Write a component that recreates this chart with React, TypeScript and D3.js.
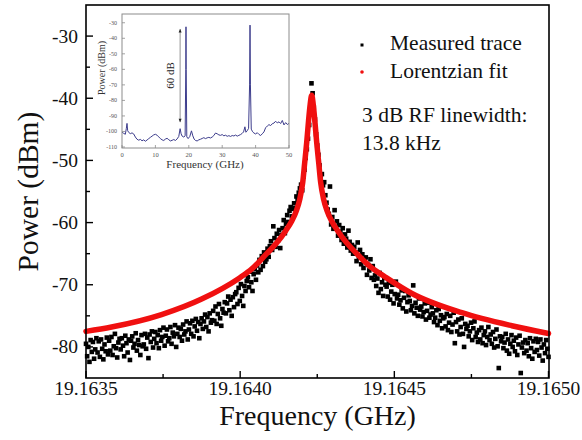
import React from 'react';
import * as d3 from 'd3';

const W = 582;
const H = 440;

// ---------- main chart data ----------
const F_START = 19.1635;
const F_STOP = 19.165;
const xTickValues = [19.1635, 19.164, 19.1645, 19.165];
const xTickLabels = ['19.1635', '19.1640', '19.1645', '19.1650'];
const xMinorTicks = [19.16375, 19.16425, 19.16475];
const yTickValues = [-30, -40, -50, -60, -70, -80];
const yMinorTicks = [-35, -45, -55, -65, -75];

// measured trace (dBm), uniformly swept from F_START to F_STOP
const measuredPower = [
  -79.5, -81.5, -80.0, -82.4, -78.9, -80.8, -79.2, -81.9, -80.4, -78.6,
  -80.9, -79.1, -81.6, -78.8, -80.3, -82.0, -79.6, -80.7, -78.5, -81.2,
  -79.0, -80.6, -78.4, -81.3, -79.9, -77.9, -80.2, -81.7, -79.3, -78.7,
  -80.4, -78.6, -79.8, -81.5, -78.2, -79.4, -80.9, -78.8, -82.1, -79.0,
  -78.3, -80.1, -79.5, -77.8, -80.6, -78.9, -79.7, -81.3, -78.1, -79.9,
  -79.6, -77.9, -80.3, -78.5, -81.8, -78.0, -79.2, -77.5, -80.1, -78.7,
  -77.6, -79.4, -78.1, -80.2, -77.3, -79.0, -78.4, -76.9, -79.8, -78.2,
  -77.2, -79.1, -78.6, -76.8, -79.5, -77.7, -78.3, -76.5, -80.0, -77.9,
  -76.9, -78.4, -77.1, -79.0, -76.4, -78.0, -77.5, -75.9, -78.8, -77.2,
  -76.2, -77.9, -75.8, -78.3, -76.7, -75.5, -77.4, -76.0, -78.6, -76.3,
  -75.4, -77.1, -75.9, -74.8, -76.8, -75.2, -77.5, -74.6, -76.1, -75.7,
  -74.2, -75.8, -73.5, -76.3, -74.7, -73.1, -75.4, -76.6, -73.9, -74.5,
  -72.8, -74.6, -73.0, -71.9, -74.1, -72.4, -75.0, -72.0, -73.6, -71.5,
  -71.2, -73.1, -70.5, -72.6, -69.9, -71.8, -73.4, -70.2, -71.0, -69.4,
  -68.8, -70.4, -67.9, -69.6, -71.0, -68.3, -67.5, -69.2, -66.9, -68.0,
  -66.0, -67.6, -65.4, -67.0, -64.8, -66.3, -65.9, -64.2, -65.5, -63.8,
  -63.0, -64.4, -60.6, -62.5, -63.9, -61.8, -62.9, -61.2, -64.1, -62.0,
  -60.9, -59.6, -61.7, -60.2, -58.8, -59.9, -58.1, -57.5, -59.0, -57.8,
  -56.9, -57.7, -55.8, -56.4, -55.2, -54.5, -53.9, -54.8, -52.6, -51.5,
  -49.6, -48.2, -46.5, -44.3, -41.8, -37.6, -39.2, -41.5, -43.4, -45.8,
  -47.6, -49.1, -50.8, -52.9, -52.2, -54.0, -53.5, -55.6, -56.8, -57.9,
  -58.6, -54.2, -60.3, -59.1, -61.0, -58.0, -60.7, -59.8, -62.1, -60.4,
  -61.5, -62.8, -60.9, -63.4, -61.9, -62.6, -64.0, -61.3, -63.1, -64.5,
  -63.6, -65.0, -63.9, -64.8, -66.2, -63.2, -65.5, -64.4, -66.7, -65.1,
  -67.3, -66.0, -65.6, -68.4, -66.8, -67.7, -65.9, -68.9, -67.0, -69.2,
  -68.5, -70.2, -69.0, -71.3, -68.1, -70.7, -69.6, -71.8, -68.9, -70.0,
  -70.3, -71.9, -69.7, -72.4, -71.1, -70.0, -73.0, -71.5, -69.5, -72.2,
  -71.6, -73.2, -72.5, -70.9, -73.8, -72.1, -71.0, -74.3, -72.8, -71.7,
  -72.6, -74.1, -73.4, -70.1, -74.6, -72.9, -73.7, -75.0, -72.2, -74.0,
  -73.5, -75.1, -74.4, -73.0, -75.6, -74.2, -72.9, -75.3, -74.8, -73.6,
  -74.6, -76.0, -75.3, -74.1, -76.5, -73.9, -75.8, -74.9, -77.0, -75.4,
  -75.2, -76.7, -74.7, -77.3, -76.1, -75.0, -77.6, -76.4, -74.5, -79.4,
  -76.0, -77.5, -75.6, -78.0, -76.8, -75.4, -77.9, -80.0, -76.3, -77.1,
  -76.6, -78.3, -77.5, -76.1, -78.9, -77.0, -75.9, -78.4, -77.7, -79.2,
  -77.3, -78.8, -76.9, -79.4, -78.1, -77.5, -79.7, -78.4, -76.8, -78.9,
  -78.0, -79.5, -77.6, -80.1, -78.7, -77.2, -79.9, -83.4, -78.3, -79.1,
  -78.4, -80.2, -79.3, -77.9, -80.6, -78.8, -81.1, -79.5, -78.1, -80.0,
  -79.0, -80.7, -78.5, -81.3, -79.6, -78.2, -84.2, -80.1, -79.3, -81.0,
  -78.9, -80.6, -79.4, -81.5, -78.6, -80.2, -81.9, -79.1, -80.8, -78.7,
  -80.5, -79.2, -81.4, -78.8, -80.1, -82.2, -79.6, -81.0, -78.9, -80.3, -81.6,
];

// Lorentzian fit
const fitFreq = [
  19.1635, 19.163583, 19.163745, 19.163875, 19.163998, 19.164037, 19.164086,
  19.164118, 19.164148, 19.164167, 19.164183, 19.164193, 19.164203, 19.164209,
  19.164216, 19.164222, 19.164227, 19.164232, 19.164237, 19.164242, 19.164248,
  19.164255, 19.164261, 19.164271, 19.164281, 19.164297, 19.164316, 19.164346,
  19.164378, 19.164427, 19.164466, 19.164557, 19.164719, 19.164881, 19.165,
];
const fitPower = [
  -77.5, -76.8, -74.8, -72.3, -68.9, -67.5, -65.0,
  -63.3, -61.3, -59.8, -58.0, -56.3, -53.5, -50.5,
  -47.0, -43.5, -41.0, -39.5, -41.0, -43.5, -47.0,
  -50.5, -53.5, -56.3, -58.0, -59.8, -61.3, -63.3,
  -65.0, -67.3, -68.6, -71.4, -74.5, -76.6, -77.85,
];

// ---------- inset data ----------
const insetXTicks = [0, 10, 20, 30, 40, 50];
const insetYTicks = [-30, -40, -50, -60, -70, -80, -90, -100, -110];
const insetFreq = [
  0.0, 0.5, 1.0, 1.3, 1.5, 1.7, 2.0, 2.5, 3.0, 3.5, 4.0, 4.5, 5.0, 5.5, 6.0,
  6.5, 7.0, 7.5, 8.0, 8.5, 9.0, 9.5, 10.0, 10.5, 11.0, 11.5, 12.0, 12.5, 13.0,
  13.5, 14.0, 14.5, 15.0, 15.5, 16.0, 16.5, 17.0, 17.4, 17.7, 18.0, 18.5, 18.9,
  19.1, 19.16, 19.22, 19.4, 19.8, 20.3, 20.8, 21.2, 21.6, 22.0, 22.5, 23.0,
  23.5, 24.0, 24.5, 25.0, 25.5, 26.0, 26.5, 27.0, 27.5, 28.0, 28.5, 29.0, 29.5,
  30.0, 30.5, 31.0, 31.5, 32.0, 32.5, 33.0, 33.5, 34.0, 34.5, 35.0, 35.5, 36.0,
  36.4, 36.8, 37.1, 37.5, 37.9, 38.2, 38.33, 38.45, 38.7, 39.1, 39.5, 40.0,
  40.5, 41.0, 41.5, 42.0, 42.5, 43.0, 43.5, 44.0, 44.5, 45.0, 45.5, 46.0, 46.5,
  47.0, 47.5, 48.0, 48.5, 49.0, 49.5, 50.0,
];
const insetPower = [
  -100.5, -101.2, -101.8, -98.0, -94.8, -99.5, -100.6, -101.4, -100.9, -101.6, -103.6, -105.0, -105.6, -105.1, -106.0,
  -105.4, -106.3, -105.5, -104.6, -103.8, -103.0, -102.2, -101.8, -102.4, -103.5, -104.6, -105.4, -105.8, -104.9,
  -104.4, -105.3, -106.1, -105.7, -105.2, -105.8, -104.8, -103.2, -98.2, -101.5, -103.0, -103.6, -102.8,
  -60.0, -32.6, -60.0, -103.5, -104.6, -103.2, -99.6, -102.8, -104.9, -105.8, -106.1, -105.4,
  -105.0, -104.5, -104.0, -104.6, -104.1, -103.8, -104.2, -103.6, -102.6, -101.0, -101.5, -102.2, -102.5,
  -102.0, -102.8, -102.4, -103.1, -102.7, -103.2, -102.6, -102.9, -102.3, -103.0, -102.5, -102.0, -101.2,
  -100.3, -97.0, -100.5, -99.5, -98.0, -70.0, -31.5, -70.0, -98.5, -100.2, -101.0, -101.6,
  -100.8, -101.9, -102.6, -101.5, -100.3, -97.6, -96.5, -95.6, -96.2, -95.0, -94.6, -93.4, -94.5,
  -93.8, -94.9, -92.9, -95.8, -94.3, -95.5, -94.8,
];
const arrowFreq = 17.4;
const arrowTop = -34;
const arrowBottom = -94;

const SERIF = "'Liberation Serif', 'Times New Roman', serif";

export default function App() {
  // main plot geometry
  const L = 86, R = 549, T = 5, B = 378;
  const x = d3.scaleLinear().domain([F_START, F_STOP]).range([L, 548.5]);
  const y = d3.scaleLinear().domain([-85, -25]).range([B, T]);

  const n = measuredPower.length;
  const measured = measuredPower.map((p, i) => ({
    f: F_START + (i * (F_STOP - F_START)) / (n - 1),
    p,
  }));
  const fit = fitFreq.map((f, i) => ({ f, p: fitPower[i] }));
  const fitLine = d3
    .line<{ f: number; p: number }>()
    .x((d) => x(d.f))
    .y((d) => y(d.p))
    .curve(d3.curveMonotoneX)(fit);

  // inset geometry
  const iL = 122, iR = 289, iT = 14, iB = 148;
  const ix = d3.scaleLinear().domain([0, 50]).range([iL, iR]);
  const iy = d3.scaleLinear().domain([-110, -25]).range([147, 15]);
  const insetLine = d3
    .line<number>()
    .x((d, i) => ix(insetFreq[i]))
    .y((d) => iy(d))(insetPower);

  const sq = 4.6;

  return (
    <svg
      width={W}
      height={H}
      style={{ position: 'absolute', left: 0, top: 0, background: '#fff' }}
      fontFamily={SERIF}
    >
      <rect x={0} y={0} width={W} height={H} fill="#fff" />

      {/* measured squares */}
      <g fill="#000">
        {measured.map((d, i) => (
          <rect key={i} x={x(d.f) - sq / 2} y={y(d.p) - sq / 2} width={sq} height={sq} />
        ))}
      </g>

      {/* Lorentzian fit */}
      <path d={fitLine || ''} fill="none" stroke="#f01010" strokeWidth={5.5} strokeLinecap="round" strokeLinejoin="round" />

      {/* frame */}
      <rect x={L} y={T} width={R - L} height={B - T} fill="none" stroke="#000" strokeWidth={1.6} />

      {/* x ticks */}
      {xTickValues.map((v, i) => (
        <g key={'xt' + i}>
          <line x1={x(v)} x2={x(v)} y1={B} y2={B - 7} stroke="#000" strokeWidth={1.4} />
          <text x={x(v)} y={395} fontSize={19.5} textAnchor="middle" fill="#111">
            {xTickLabels[i]}
          </text>
        </g>
      ))}
      {xMinorTicks.map((v, i) => (
        <line key={'xm' + i} x1={x(v)} x2={x(v)} y1={B} y2={B - 4} stroke="#000" strokeWidth={1.4} />
      ))}

      {/* y ticks */}
      {yTickValues.map((v, i) => (
        <g key={'yt' + i}>
          <line x1={L} x2={L + 7} y1={y(v)} y2={y(v)} stroke="#000" strokeWidth={1.4} />
          <text x={78} y={y(v) + 6.5} fontSize={19.5} textAnchor="end" fill="#111">
            {String(v)}
          </text>
        </g>
      ))}
      {yMinorTicks.map((v, i) => (
        <line key={'ym' + i} x1={L} x2={L + 4} y1={y(v)} y2={y(v)} stroke="#000" strokeWidth={1.4} />
      ))}

      {/* axis titles */}
      <text x={(L + R) / 2} y={424.5} fontSize={28} textAnchor="middle" fill="#111">
        Frequency (GHz)
      </text>
      <text
        transform={`translate(38, ${(T + B) / 2}) rotate(-90)`}
        fontSize={29.5}
        textAnchor="middle"
        fill="#111"
      >
        Power (dBm)
      </text>

      {/* legend */}
      <rect x={360.5} y={43.5} width={3} height={3} fill="#000" />
      <text x={390} y={50} fontSize={21.5} fill="#111">Measured trace</text>
      <circle cx={362} cy={72} r={1.8} fill="#f01010" />
      <text x={390} y={78} fontSize={21.5} fill="#111">Lorentzian fit</text>
      <text x={362} y={122} fontSize={21.5} fill="#111">3 dB RF linewidth:</text>
      <text x={362} y={149.5} fontSize={21.5} fill="#111">13.8 kHz</text>

      {/* inset */}
      <g>
        <path d={insetLine || ''} fill="none" stroke="#3c3c8c" strokeWidth={1} />
        <rect x={iL} y={iT} width={iR - iL} height={iB - iT} fill="none" stroke="#8c8c8c" strokeWidth={1} />
        {insetXTicks.map((v, i) => (
          <g key={'ixt' + i}>
            <line x1={ix(v)} x2={ix(v)} y1={iB} y2={iB - 3} stroke="#8c8c8c" strokeWidth={0.8} />
            <text x={ix(v)} y={157} fontSize={6.5} textAnchor="middle" fill="#555">{String(v)}</text>
          </g>
        ))}
        {insetYTicks.map((v, i) => (
          <g key={'iyt' + i}>
            <line x1={iL} x2={iL + 3} y1={iy(v)} y2={iy(v)} stroke="#8c8c8c" strokeWidth={0.8} />
            <text x={117} y={iy(v) + 2} fontSize={6} textAnchor="end" fill="#555">{String(v)}</text>
          </g>
        ))}
        <text x={205} y={168} fontSize={11} textAnchor="middle" fill="#333">Frequency (GHz)</text>
        <text transform={`translate(105, 68) rotate(-90)`} fontSize={10} textAnchor="middle" fill="#333">
          Power (dBm)
        </text>
        {/* 60 dB arrow */}
        <line x1={ix(arrowFreq)} x2={ix(arrowFreq)} y1={iy(arrowTop)} y2={iy(arrowBottom)} stroke="#888" strokeWidth={0.9} />
        <path
          d={`M${ix(arrowFreq)},${iy(arrowTop)} l-1.5,3.5 l3,0 z`}
          fill="#222"
        />
        <path
          d={`M${ix(arrowFreq)},${iy(arrowBottom)} l-1.5,-3.5 l3,0 z`}
          fill="#222"
        />
        <text
          transform={`translate(${ix(arrowFreq) - 6}, ${(iy(arrowTop) + iy(arrowBottom)) / 2}) rotate(-90)`}
          fontSize={11}
          textAnchor="middle"
          fill="#222"
        >
          60 dB
        </text>
      </g>
    </svg>
  );
}
